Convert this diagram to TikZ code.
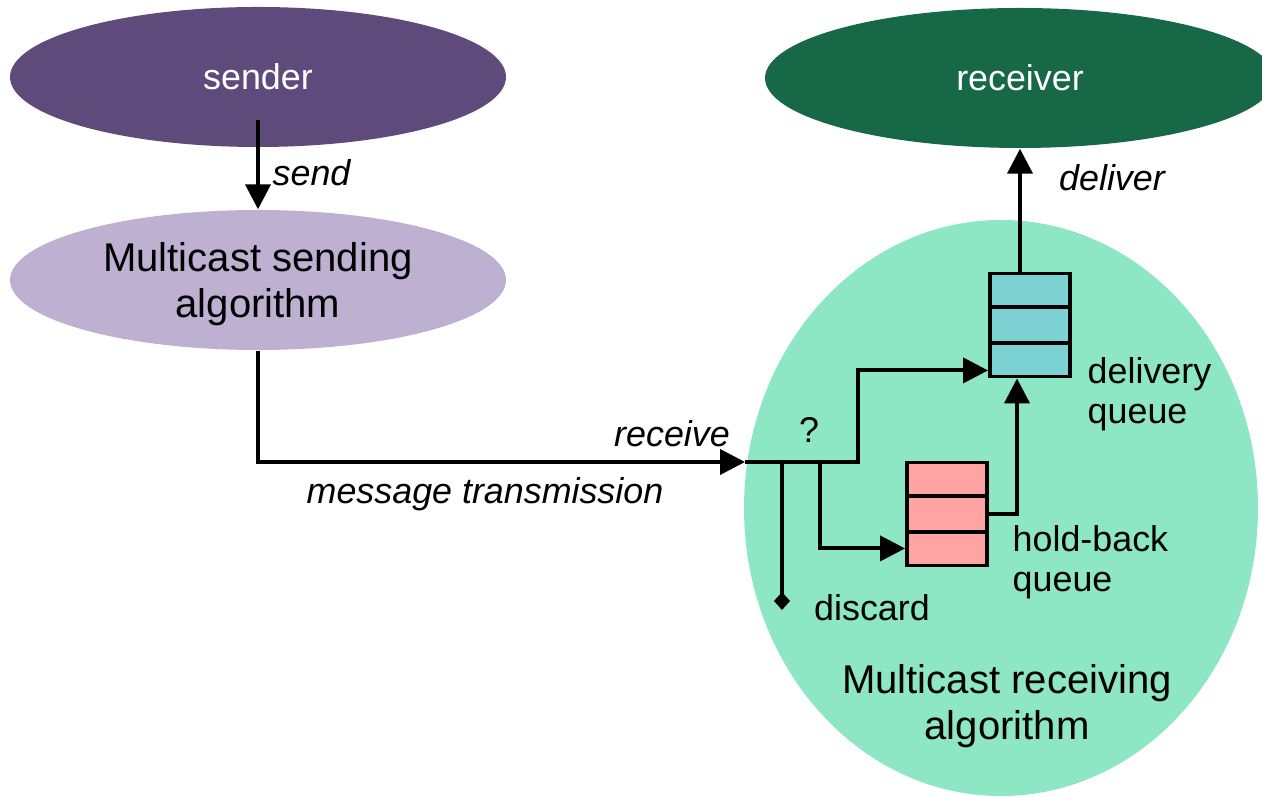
\documentclass[tikz,border=0pt]{standalone}
\usepackage{fontspec}
\setmainfont{Liberation Sans}
\usetikzlibrary{shapes.geometric}
\usetikzlibrary{arrows.meta}
\usetikzlibrary{calc}
\definecolor{senderfill}{RGB}{94,74,123}
\definecolor{sendalgfill}{RGB}{190,176,209}
\definecolor{receiverfill}{RGB}{22,104,70}
\definecolor{recvalgfill}{RGB}{141,230,196}
\definecolor{deliveryfill}{RGB}{124,210,210}
\definecolor{holdfill}{RGB}{255,163,163}
\tikzset{   blob/.style = {ellipse, inner sep = 0pt, align = center},
            big/.style = {font = \fontsize{11.4}{13.1}\selectfont, text depth = 0pt},
            queue/.style = {rectangle, draw = black, line width = 1.1pt, minimum width = 0.8cm, minimum height = 1.03cm, inner sep = 0pt},
            flow/.style = {line width = 1.1pt, -{Triangle[length=0.25cm, width=0.25cm]}},
            lbl/.style = {inner sep = 0pt, align = left}}

\begin{document}
\begin{tikzpicture}[font=\fontsize{10.2}{11.3}\selectfont]
                        \useasboundingbox (0,0) rectangle (12.62,7.97);
                        % ellipses
                        \node[blob, fill = recvalgfill, minimum width = 5.14cm, minimum height = 5.76cm] (recvalg) at (10.01,2.89) {};
                        \node[blob, fill = senderfill, text = white, minimum width = 4.96cm, minimum height = 1.40cm] (sender) at (2.58,7.20) {sender};
                        \node[blob, big, fill = sendalgfill, minimum width = 4.96cm, minimum height = 1.40cm] (sendalg) at (2.58,5.17) {Multicast sending\\algorithm};
                        \node[blob, fill = receiverfill, text = white, minimum width = 5.10cm, minimum height = 1.40cm] (receiver) at (10.20,7.19) {receiver};
                        \node[lbl, big, align = center] (recvtext) at (10.07,0.95) {Multicast receiving\\algorithm};

                        % queues
                        \node[queue, fill = deliveryfill] (dq) at (10.30,4.72) {};
                        \node[queue, fill = holdfill] (hq) at (9.47,2.83) {};
                        \foreach \q in {dq,hq}
                          \foreach \f in {1/3,2/3}
                            \draw[line width = 1.1pt] ($(\q.north west)!\f!(\q.south west)$) -- ($(\q.north east)!\f!(\q.south east)$);

                        % message paths
                        \coordinate (recv) at (7.45,3.35);
                        \coordinate (drop) at (7.82,3.35);
                        \coordinate (split) at (8.20,3.35);
                        \coordinate (bend) at (8.58,3.35);
                        \coordinate (dropend) at (7.82,1.87);
                        \draw[flow] ([yshift=-0.43cm]sender.center) -- (sendalg.north);
                        \draw[flow] (sendalg.south) |- (recv);
                        \draw[flow] (recv) -- (bend) |- ([yshift=0.08cm]dq.south west);
                        \draw[flow] (split) |- ([yshift=0.19cm]hq.south west);
                        \draw[flow] (hq.east) -| ([xshift=-0.13cm]dq.south);
                        \draw[flow] ([xshift=-0.1cm]dq.north) -- (receiver.south);
                        \draw[line width = 1.1pt, -{Diamond[length=0.18cm, width=0.16cm]}] (drop) -- (dropend);

                        % labels
                        \node[lbl, anchor = west] (sendlbl) at (2.72,6.24) {\itshape send};
                        \node[lbl] (deliverlbl) at (11.12,6.19) {\itshape deliver};
                        \node[lbl] (receivelbl) at (6.72,3.63) {\itshape receive};
                        \node[lbl] (transmitlbl) at (4.85,3.03) {\itshape message transmission};
                        \node[lbl] (querylbl) at (8.09,3.67) {?};
                        \node[lbl, anchor = west] (dqlbl) at (10.87,4.03) {delivery\\queue};
                        \node[lbl, anchor = west] (hqlbl) at (10.12,2.35) {hold-back\\queue};
                        \node[lbl] (discardlbl) at (8.72,1.89) {discard};
\end{tikzpicture}
\end{document}
